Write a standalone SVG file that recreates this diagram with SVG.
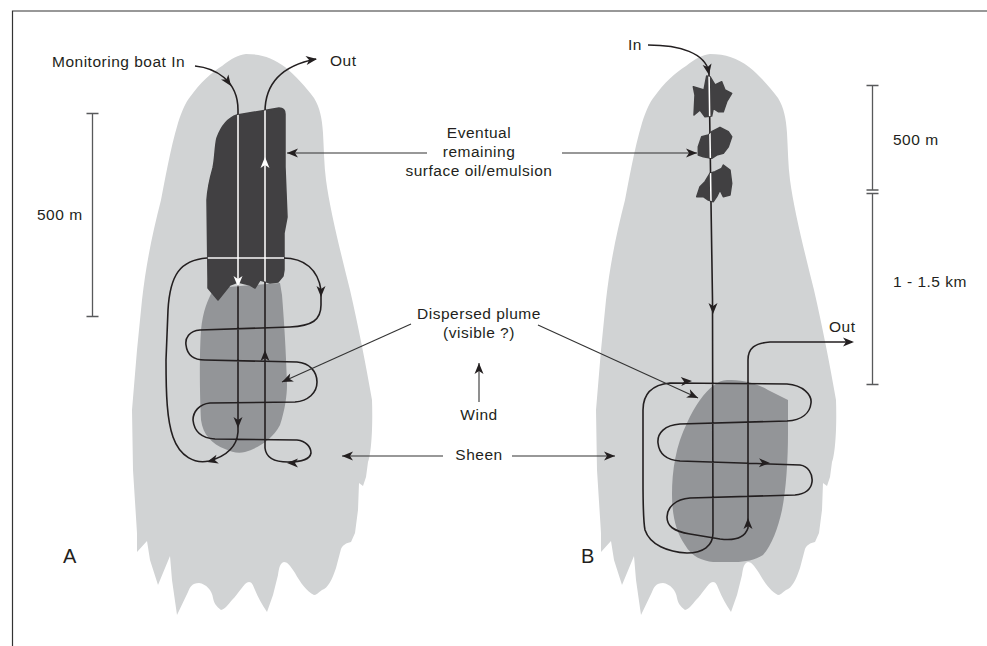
<svg xmlns="http://www.w3.org/2000/svg" xmlns:xlink="http://www.w3.org/1999/xlink" width="987" height="646" viewBox="0 0 987 646">
<style>
.t{font-family:"Liberation Sans",Arial,Helvetica,sans-serif;font-size:15.5px;letter-spacing:0.5px;fill:#231f20}
.big{font-size:20px;letter-spacing:0}
.mid{text-anchor:middle}
.sheen{fill:#d1d3d4}
.plume{fill:#939598}
.oil{fill:#414042;stroke:#414042;stroke-width:1.5;stroke-linejoin:round}
.route{fill:none;stroke:#231f20;stroke-width:1.6}
.routew{fill:none;stroke:#ffffff;stroke-width:1.6}
.lbl{fill:none;stroke:#333333;stroke-width:1.1}
.scale{fill:none;stroke:#58595b;stroke-width:1.3}
.ah{fill:#231f20}
.ahw{fill:#ffffff}
.frame{fill:none;stroke:#333333;stroke-width:1.2}
</style>
<defs>
<path id="ahd" d="M0,0 L-11,-4.5 L-8,0 L-11,4.5 Z"/>
<marker id="m" viewBox="-12 -6 13 12" refX="0" refY="0" markerWidth="13" markerHeight="12" markerUnits="userSpaceOnUse" orient="auto">
<path d="M0,0 L-11,-4.5 L-8,0 L-11,4.5 Z" fill="#231f20"/>
</marker>
<path id="sheenShape" d="M246,54 C262,54 273,58 285,67 C295,75 306,87 314,98 C320,108 322,118 323,133 C324,150 324,165 326,180 C330,210 340,250 350,290 C358,325 366,365 372,400 C373,430 371,455 368,462 L366,477 L363,486 L359,483 L358,510 L355,533 L351,542 C346,543 343,545 341,549 L336,568 C332,580 328,588 322,590 C318,593 316,595 314,595 C307,592 300,582 295,573 C290,565 287,562 284,562 C280,563 279,568 278,575 L273,595 L267,612 C262,605 258,597 255,590 C253,585 252,582 249,582 C244,582 238,595 232,600 C228,605 225,609 221,610 C216,606 214,603 213,598 C212,590 206,584 199,583 C192,583 190,587 188,592 L177,615 L172,580 L170,556 L158,585 L150,560 L147,541 L137,552 L137,533 L133,470 L132,410 L137,350 L142,300 C146,265 152,235 161,200 C165,180 170,150 178,123 C182,110 186,102 190,97 C200,83 212,72 222,66 C232,58 238,55 246,54 Z"/>
<path id="oilA" d="M237,115 L279,108 C283,108 285,110 285,114 L285,167 L287,217 L284,233 L284,270 L283,276 L278,282 L270,283 L260,280 L255,288 L250,285 L238,282 L230,285 L218,300 L208,288 L208,278 L207,200 C208,185 211,175 213,168 C215,160 215,145 217,138 C221,127 228,118 237,115 Z"/>
<path id="blob1" d="M706.7,76 L710,76.7 L715,85 L721.7,81.7 L725,90 L731.7,93.3 L726.7,101.7 L723.3,111.7 L718.3,111.7 L713.3,108.3 L711.7,116 L705,116.7 L700,110 L694,115 L695,95 L693.3,86.7 L704,90 Z"/>
<path id="blob2" d="M698.3,146.7 L701.7,136.7 L708.3,135 L711.7,131.7 L720,127.3 L728.3,131.7 L731.7,136.7 L728.3,146.7 L723.3,153.3 L716.7,155 L711.7,158.3 L703.3,156.7 L698.3,155 Z"/>
<path id="blob3" d="M696.7,196.7 L700,186.7 L705,181.7 L710,173.3 L715,171.7 L721.7,168.3 L723.3,165 L730,170 L731.7,183.3 L730,195 L723.3,196.7 L720,190 L716.7,196.7 L713.3,201.7 L708.3,200 L703.3,196.7 Z"/>
<path id="routeA1" d="M195,66 C215,68 238,80 238,110 L238,432 C237,446 227,456 209,461 C195,464 180,457 173,437 C167,420 166,395 166,360 L168,310 C170,275 180,260 207,258 L283,258 C305,258 318,270 321,290 L321,305 C321,320 312,326 290,327 L200,330 C189,331 185,338 186,345 C187,354 193,360 205,360 L297,362 C310,363 317,372 317,382 C317,393 308,401 295,402 L210,403 C199,404 193,412 193,420 C194,430 200,438 215,439 L297,440 C306,441 311,447 311,453 C310,459 302,462 288,462"/>
<path id="routeA2" d="M288,462 C275,462 266,458 265,448 L265,112 C265,85 280,66 316,59"/>
<path id="routeB" d="M648,45 C680,45 705,53 709,72 L712.5,300 L713,533 C713,546 703,553 687,553 C668,552 650,545 645,530 C643,520 643,500 643,480 L643,410 C643,395 650,385 670,383 L787,384 C803,385 812,395 811,403 C810,413 802,420 787,421 L680,424 C665,425 657,433 658,443 C659,453 666,460 680,461 L800,465 C808,466 813,474 812,482 C811,489 806,494 795,495 L690,498 C675,499 667,508 667,517 C667,526 673,531 690,534 L720,539 C735,541 745,537 748,528 L748,360 C748,348 755,343 770,342 L852,342"/>
<clipPath id="clipA"><use xlink:href="#oilA"/></clipPath>
<clipPath id="clipB"><use xlink:href="#blob1"/><use xlink:href="#blob2"/><use xlink:href="#blob3"/></clipPath>
</defs>

<rect x="0" y="0" width="987" height="646" fill="#ffffff"/>
<path class="frame" d="M12.5,646 L12.5,11 L987,11"/>

<g id="sheen-A"><use xlink:href="#sheenShape" class="sheen"/></g>
<g id="sheen-B"><use xlink:href="#sheenShape" class="sheen" transform="translate(464,0)"/></g>

<g id="plume-A"><path class="plume" d="M212,292 C208,300 203,310 201,330 C199,360 200,400 201,420 C203,435 212,444 225,449 C232,452 238,454 245,452 C258,448 272,440 280,425 C285,410 287,395 287,385 C286,350 284,320 282,295 L280,283 L215,288 Z"/></g>
<g id="oil-A"><use xlink:href="#oilA" class="oil"/></g>

<g id="plume-B"><path class="plume" d="M727,380 C740,380 755,382 768,390 L788,400 L788,433 C788,460 786,490 782,510 C778,528 772,545 763,555 C755,560 745,562 735,562 L713,562 C703,561 692,557 685,545 C676,532 672,515 672,495 C672,470 676,445 687,423 C695,405 705,392 713,386 C718,382 722,380 727,380 Z"/></g>
<g id="oil-B">
<use xlink:href="#blob1" class="oil"/>
<use xlink:href="#blob2" class="oil"/>
<use xlink:href="#blob3" class="oil"/>
</g>

<g id="connectors">
<use xlink:href="#routeA1" class="route"/>
<use xlink:href="#routeA2" class="route"/>
<use xlink:href="#routeB" class="route"/>
<g clip-path="url(#clipA)">
<use xlink:href="#routeA1" class="routew"/>
<use xlink:href="#routeA2" class="routew"/>
</g>
<g clip-path="url(#clipB)">
<use xlink:href="#routeB" class="routew"/>
</g>
<!-- arrowheads A -->
<use xlink:href="#ahd" class="ah" transform="translate(231,86) rotate(55)"/>
<use xlink:href="#ahd" class="ahw" transform="translate(238,287) rotate(90)"/>
<use xlink:href="#ahd" class="ah" transform="translate(238,428) rotate(90)"/>
<use xlink:href="#ahd" class="ah" transform="translate(207,462) rotate(165)"/>
<use xlink:href="#ahd" class="ah" transform="translate(321,297) rotate(90)"/>
<use xlink:href="#ahd" class="ah" transform="translate(287,463) rotate(180)"/>
<use xlink:href="#ahd" class="ah" transform="translate(265,350) rotate(-90)"/>
<use xlink:href="#ahd" class="ahw" transform="translate(265,157) rotate(-90)"/>
<use xlink:href="#ahd" class="ah" transform="translate(317,59) rotate(-8)"/>
<!-- arrowheads B -->
<use xlink:href="#ahd" class="ah" transform="translate(709,75) rotate(80)"/>
<use xlink:href="#ahd" class="ah" transform="translate(713,314) rotate(90)"/>
<use xlink:href="#ahd" class="ah" transform="translate(692,381) rotate(-3)"/>
<use xlink:href="#ahd" class="ah" transform="translate(770,463) rotate(1)"/>
<use xlink:href="#ahd" class="ah" transform="translate(748,518) rotate(-90)"/>
<use xlink:href="#ahd" class="ah" transform="translate(854,342) rotate(0)"/>
<!-- label arrows -->
<line class="lbl" x1="427" y1="153" x2="287" y2="153" marker-end="url(#m)"/>
<line class="lbl" x1="562" y1="153" x2="697" y2="153" marker-end="url(#m)"/>
<line class="lbl" x1="411" y1="324" x2="282" y2="382" marker-end="url(#m)"/>
<line class="lbl" x1="538" y1="325" x2="698" y2="398" marker-end="url(#m)"/>
<line class="lbl" x1="479" y1="402" x2="479" y2="363" marker-end="url(#m)"/>
<line class="lbl" x1="443" y1="456" x2="342" y2="456" marker-end="url(#m)"/>
<line class="lbl" x1="512" y1="456" x2="615" y2="456" marker-end="url(#m)"/>
</g>

<g id="scale-A">
<path class="scale" d="M92.5,113.5 L92.5,316.5 M86.5,113.5 L98.5,113.5 M86.5,316.5 L98.5,316.5"/>
<text class="t" x="37" y="220">500 m</text>
</g>
<g id="scale-B">
<path class="scale" d="M872.5,85.5 L872.5,190 M872.5,193.5 L872.5,384.5 M866.5,85.5 L878.5,85.5 M866.5,190 L878.5,190 M866.5,193.5 L878.5,193.5 M866.5,384.5 L878.5,384.5"/>
<text class="t" x="893" y="145">500 m</text>
<text class="t" x="893" y="287">1 - 1.5 km</text>
</g>

<g id="labels-A">
<text class="t" x="52" y="67">Monitoring boat In</text>
<text class="t" x="330" y="66">Out</text>
<text class="t big" x="63" y="563">A</text>
</g>
<g id="labels-B">
<text class="t" x="628" y="50">In</text>
<text class="t" x="829" y="332">Out</text>
<text class="t big" x="581" y="563">B</text>
</g>
<g id="labels-center">
<text class="t mid" x="479" y="138">Eventual</text>
<text class="t mid" x="479" y="157">remaining</text>
<text class="t mid" x="479" y="176">surface oil/emulsion</text>
<text class="t mid" x="479" y="319">Dispersed plume</text>
<text class="t mid" x="479" y="338">(visible ?)</text>
<text class="t mid" x="479" y="420">Wind</text>
<text class="t mid" x="479" y="460">Sheen</text>
</g>
</svg>
